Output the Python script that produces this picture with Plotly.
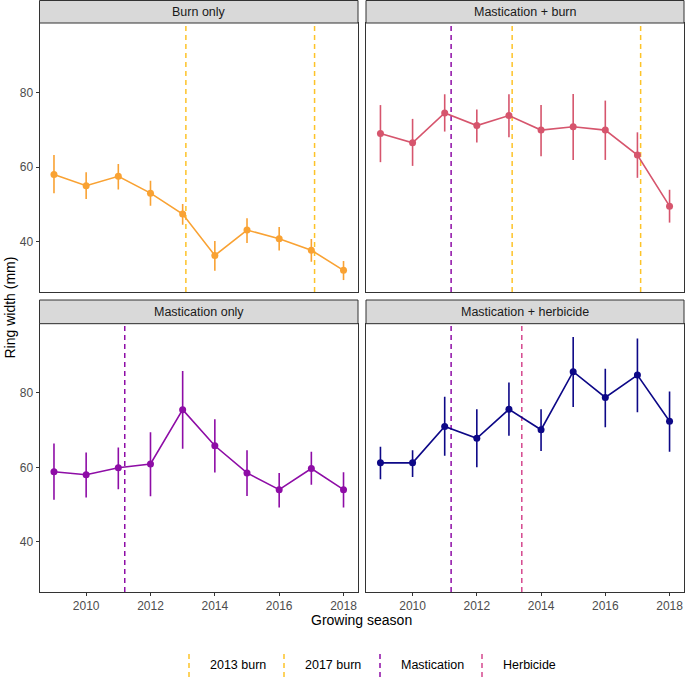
import plotly.graph_objects as go

# ---------------- data ----------------
years = [2009, 2010, 2011, 2012, 2013, 2014, 2015, 2016, 2017, 2018]

panels = ["Burn only", "Mastication + burn", "Mastication only", "Mastication + herbicide"]

burn_only_mean = [58.0, 55.0, 57.5, 53.0, 47.4, 36.3, 43.1, 40.8, 37.7, 32.3]
burn_only_hi = [63.2, 58.6, 60.8, 56.3, 50.1, 40.2, 46.3, 43.9, 40.7, 34.8]
burn_only_lo = [53.0, 51.4, 54.0, 49.6, 44.5, 32.2, 39.6, 37.6, 34.6, 29.7]

mast_burn_mean = [69.0, 66.5, 74.5, 71.1, 73.8, 69.9, 70.8, 69.9, 63.2, 49.5]
mast_burn_hi = [76.6, 72.9, 79.5, 75.4, 79.5, 76.6, 79.6, 77.8, 69.3, 53.9]
mast_burn_lo = [61.3, 60.3, 69.5, 66.6, 68.0, 62.9, 61.9, 61.9, 57.1, 45.1]

mast_only_mean = [58.8, 58.0, 59.9, 60.9, 75.5, 65.8, 58.5, 54.0, 59.7, 54.0]
mast_only_hi = [66.4, 64.0, 65.3, 69.4, 85.9, 72.9, 64.6, 58.5, 64.2, 58.7]
mast_only_lo = [51.3, 51.9, 54.1, 52.2, 65.0, 58.6, 52.3, 49.2, 55.3, 49.2]

mast_herb_mean = [61.2, 61.2, 71.0, 67.8, 75.6, 70.1, 85.7, 78.8, 84.8, 72.4]
mast_herb_hi = [65.5, 64.6, 79.0, 75.6, 82.8, 75.6, 95.0, 86.5, 94.6, 80.4]
mast_herb_lo = [56.8, 57.4, 63.1, 60.0, 68.5, 64.4, 76.2, 70.8, 74.8, 64.2]

means = [burn_only_mean, mast_burn_mean, mast_only_mean, mast_herb_mean]
his = [burn_only_hi, mast_burn_hi, mast_only_hi, mast_herb_hi]
los = [burn_only_lo, mast_burn_lo, mast_only_lo, mast_herb_lo]

panel_colors = ["#F9A233", "#D6556D", "#8E0DA6", "#0D0887"]

event_names = ["2013 burn", "2017 burn", "Mastication", "Herbicide"]
event_years = [2013.1, 2017.1, 2011.2, 2013.4]
event_colors = ["#FDC328", "#FDC328", "#8E0DA6", "#D5488F"]
panel_events = [
    ["2013 burn", "2017 burn"],
    ["Mastication", "2013 burn", "2017 burn"],
    ["Mastication"],
    ["Mastication", "Herbicide"],
]

x_ticks = [2010, 2012, 2014, 2016, 2018]
y_ticks = [40, 60, 80]

# ---------------- layout geometry ----------------
W, H = 685, 684
FONT = "Liberation Sans, Arial, Helvetica, sans-serif"

def px_x(v):
    return v / W

def px_y(v):
    return 1 - v / H

col_x = [(39.5, 358.0), (366.0, 684.0)]
row_plot = [(23.0, 292.0), (323.7, 592.0)]
row_strip = [(0.5, 23.0), (300.0, 323.7)]

x_range = [2008.55, 2018.45]
y_range = [26.5, 98.6]

fig = go.Figure()
shapes = []
annotations = []
layout_axes = {}

for i, name in enumerate(panels):
    r, c = divmod(i, 2)
    n = i + 1
    xa = "x" if n == 1 else f"x{n}"
    ya = "y" if n == 1 else f"y{n}"
    xkey = "xaxis" if n == 1 else f"xaxis{n}"
    ykey = "yaxis" if n == 1 else f"yaxis{n}"

    fig.add_trace(go.Scatter(
        x=years, y=means[i], xaxis=xa, yaxis=ya,
        mode="lines+markers",
        line=dict(color=panel_colors[i], width=1.6),
        marker=dict(color=panel_colors[i], size=7),
        error_y=dict(
            type="data", symmetric=False,
            array=[h - m for h, m in zip(his[i], means[i])],
            arrayminus=[m - l for m, l in zip(means[i], los[i])],
            color=panel_colors[i], thickness=1.6, width=0),
        showlegend=False, hoverinfo="x+y",
    ))

    bottom = (r == 1)
    left = (c == 0)
    layout_axes[xkey] = dict(
        domain=[px_x(col_x[c][0]), px_x(col_x[c][1])],
        anchor=ya, range=x_range,
        tickvals=x_ticks, showticklabels=bottom,
        ticks="outside" if bottom else "", ticklen=3, tickwidth=1, tickcolor="#333333",
        showline=True, mirror=True, linecolor="#333333", linewidth=1,
        showgrid=False, zeroline=False,
        tickfont=dict(family=FONT, size=12, color="#4D4D4D"),
    )
    layout_axes[ykey] = dict(
        domain=[px_y(row_plot[r][1]), px_y(row_plot[r][0])],
        anchor=xa, range=y_range,
        tickvals=y_ticks, showticklabels=left,
        ticks="outside" if left else "", ticklen=3, tickwidth=1, tickcolor="#333333",
        showline=True, mirror=True, linecolor="#333333", linewidth=1,
        showgrid=False, zeroline=False,
        tickfont=dict(family=FONT, size=12, color="#4D4D4D"),
    )

    # event lines
    for ev in panel_events[i]:
        k = event_names.index(ev)
        shapes.append(dict(
            type="line", xref=xa, yref=f"{ya} domain",
            x0=event_years[k], x1=event_years[k], y0=0, y1=1,
            line=dict(color=event_colors[k], width=1.5, dash="5px,4px"), layer="below"))

    # strip
    shapes.append(dict(
        type="rect", xref="paper", yref="paper",
        x0=px_x(col_x[c][0]), x1=px_x(col_x[c][1]),
        y0=px_y(row_strip[r][1]), y1=px_y(row_strip[r][0]),
        fillcolor="#D9D9D9", line=dict(color="#333333", width=1)))
    annotations.append(dict(
        xref="paper", yref="paper",
        x=px_x((col_x[c][0] + col_x[c][1]) / 2),
        y=px_y((row_strip[r][0] + row_strip[r][1]) / 2),
        text=name, showarrow=False, xanchor="center", yanchor="middle",
        font=dict(family=FONT, size=12.5, color="#1A1A1A")))

# axis titles
annotations.append(dict(
    xref="paper", yref="paper", x=px_x((39.5 + 684) / 2), y=px_y(620),
    text="Growing season", showarrow=False, xanchor="center", yanchor="middle",
    font=dict(family=FONT, size=14, color="#000000")))
annotations.append(dict(
    xref="paper", yref="paper", x=px_x(9), y=px_y(307.5),
    text="Ring width (mm)", showarrow=False, xanchor="center", yanchor="middle",
    textangle=-90, font=dict(family=FONT, size=14, color="#000000")))

# manual legend
legend_key_x = [189, 284, 380, 482]
for k, ev in enumerate(event_names):
    shapes.append(dict(
        type="line", xref="paper", yref="paper",
        x0=px_x(legend_key_x[k]), x1=px_x(legend_key_x[k]),
        y0=px_y(677), y1=px_y(652),
        line=dict(color=event_colors[k], width=1.5, dash="5px,4px")))
    annotations.append(dict(
        xref="paper", yref="paper", x=px_x(legend_key_x[k] + 19), y=px_y(665),
        text=ev, showarrow=False, xanchor="left", yanchor="middle",
        font=dict(family=FONT, size=12.5, color="#000000")))

fig.update_layout(
    width=W, height=H,
    margin=dict(l=0, r=0, t=0, b=0),
    paper_bgcolor="white", plot_bgcolor="white",
    shapes=shapes, annotations=annotations,
    showlegend=False,
    **layout_axes,
)

fig.write_html(
    "out.html",
    config={"displayModeBar": False},
    post_script="document.body.style.margin='0';document.body.style.padding='0';"
                "document.body.style.overflow='hidden';",
)
